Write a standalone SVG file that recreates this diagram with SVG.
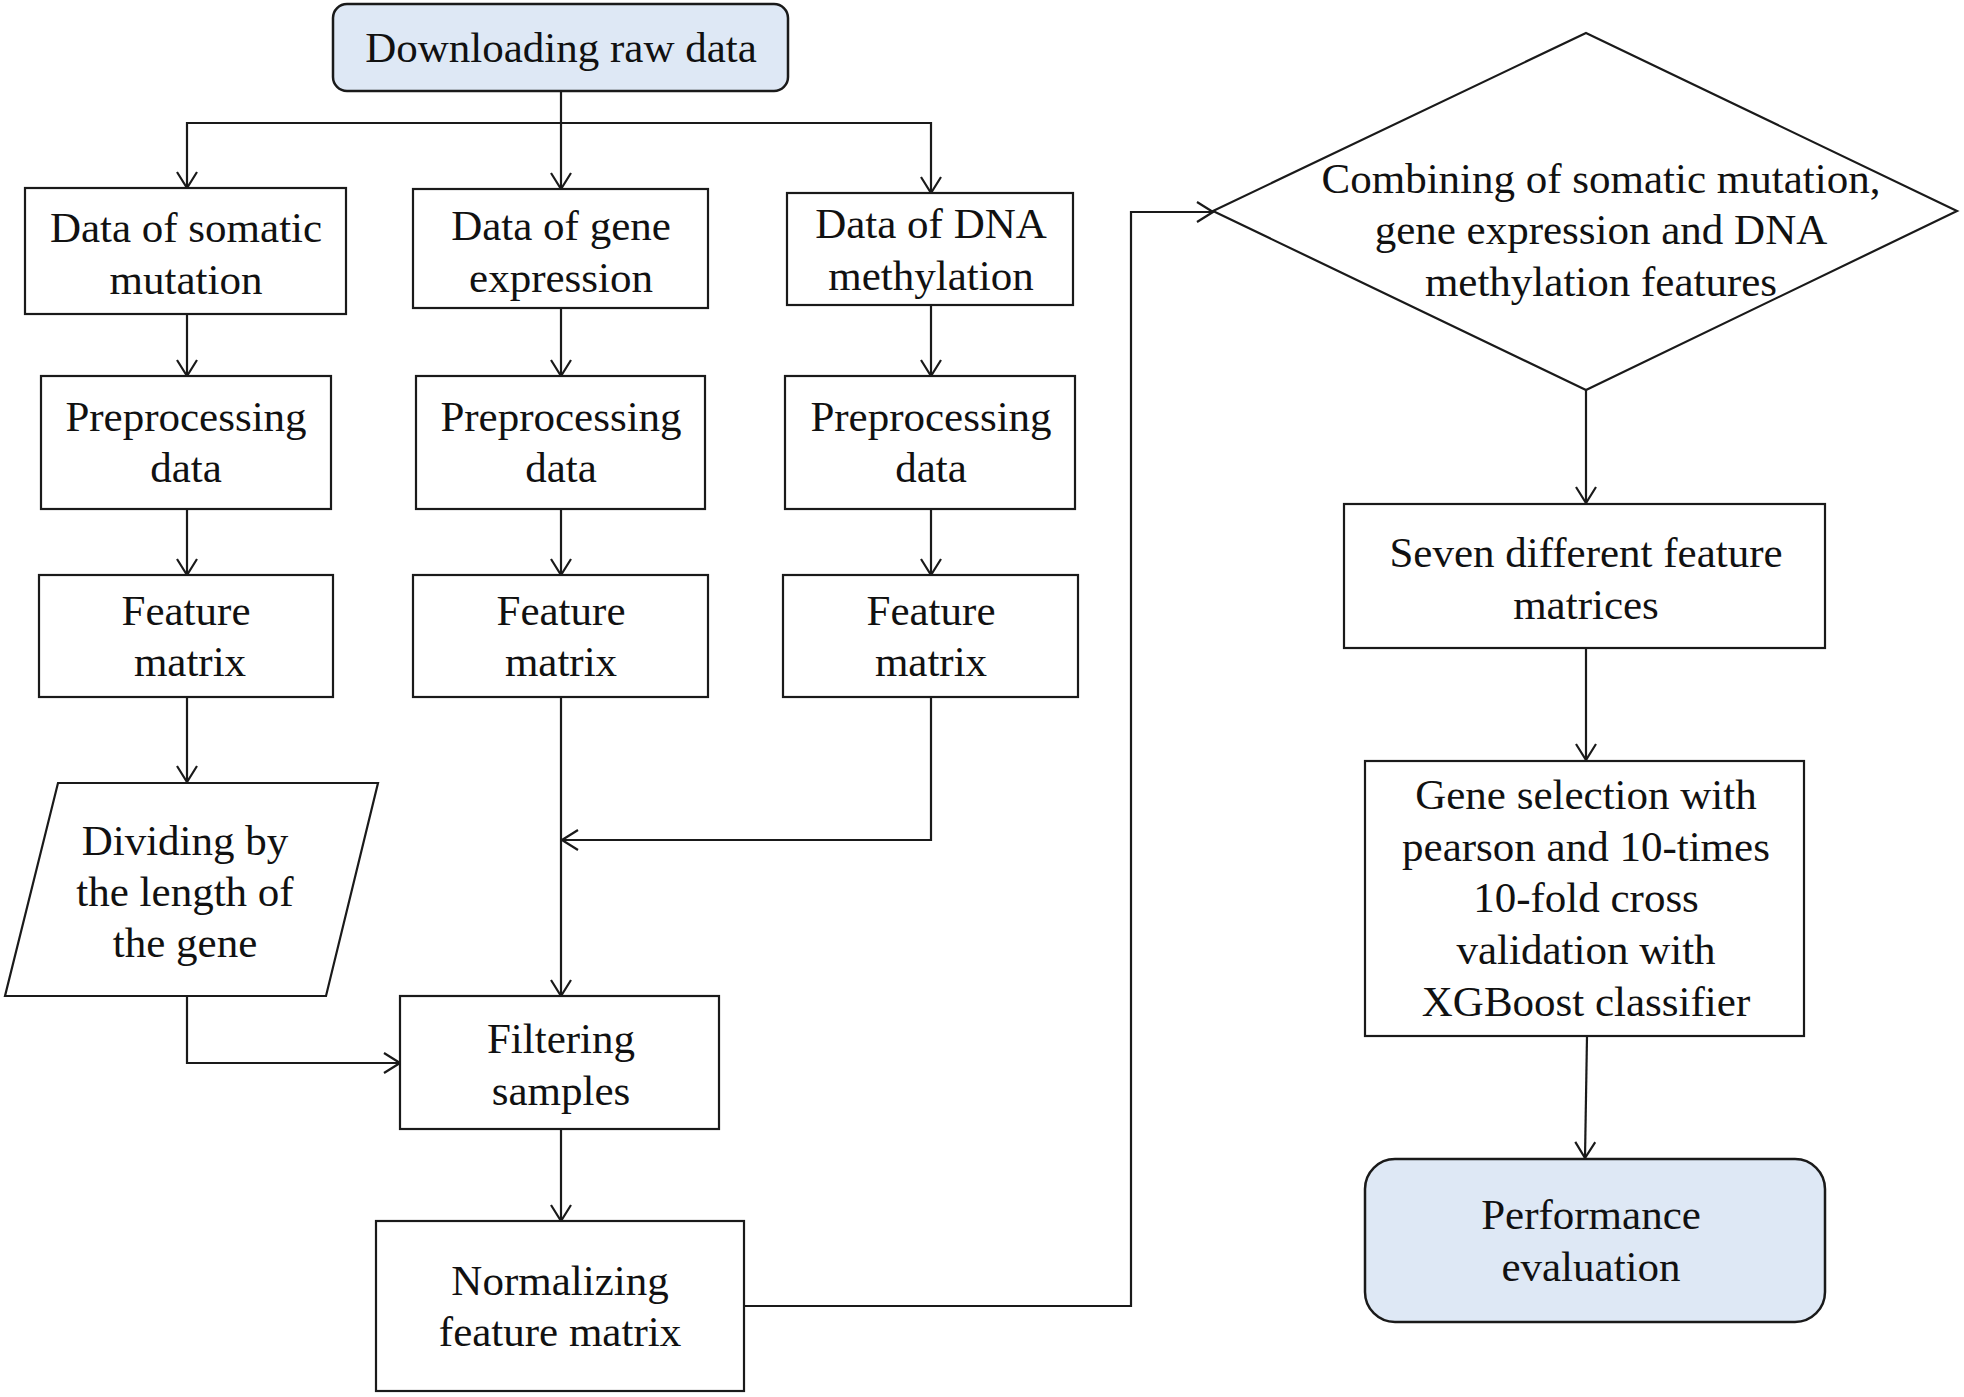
<svg xmlns="http://www.w3.org/2000/svg" width="1964" height="1397" viewBox="0 0 1964 1397">
<style>
.box{fill:#ffffff;stroke:#1a1a1a;stroke-width:2.2}
.term{fill:#dee8f5;stroke:#1a1a1a;stroke-width:2.5}
.t{font-family:"Liberation Serif","Times New Roman",serif;font-size:43px;fill:#111;text-anchor:middle}
.c{fill:none;stroke:#1a1a1a;stroke-width:2.2}
</style>
<defs>
<marker id="ah" viewBox="0 0 18 22" refX="17" refY="11" markerWidth="18" markerHeight="22" markerUnits="userSpaceOnUse" orient="auto">
<path d="M1,1 L17,11 L1,21" fill="none" stroke="#1a1a1a" stroke-width="2.2"/>
</marker>
</defs>
<rect width="1964" height="1397" fill="#ffffff"/>
<g id="connectors">
<path class="c" d="M561,91 V123 H187 V188" marker-end="url(#ah)"/>
<path class="c" d="M561,123 V189" marker-end="url(#ah)"/>
<path class="c" d="M561,123 H931 V193" marker-end="url(#ah)"/>
<path class="c" d="M187,314 V376" marker-end="url(#ah)"/>
<path class="c" d="M561,308 V376" marker-end="url(#ah)"/>
<path class="c" d="M931,305 V376" marker-end="url(#ah)"/>
<path class="c" d="M187,509 V575" marker-end="url(#ah)"/>
<path class="c" d="M561,509 V575" marker-end="url(#ah)"/>
<path class="c" d="M931,509 V575" marker-end="url(#ah)"/>
<path class="c" d="M187,697 V782" marker-end="url(#ah)"/>
<path class="c" d="M187,996 V1063 H400" marker-end="url(#ah)"/>
<path class="c" d="M561,697 V996" marker-end="url(#ah)"/>
<path class="c" d="M931,697 V840 H562" marker-end="url(#ah)"/>
<path class="c" d="M561,1129 V1221" marker-end="url(#ah)"/>
<path class="c" d="M744,1306 H1131 V212 H1213" marker-end="url(#ah)"/>
<path class="c" d="M1586,390 V503" marker-end="url(#ah)"/>
<path class="c" d="M1586,648 V760" marker-end="url(#ah)"/>
<path class="c" d="M1587,1036 L1585,1158" marker-end="url(#ah)"/>
</g>
<g id="download">
<rect class="term" x="333" y="4" width="455" height="87" rx="14"/>
<text class="t" x="561" y="62">Downloading raw data</text>
</g>
<g id="somatic">
<rect class="box" x="25" y="188" width="321" height="126"/>
<text class="t" x="186" y="242">Data of somatic</text>
<text class="t" x="186" y="294">mutation</text>
</g>
<g id="geneexpr">
<rect class="box" x="413" y="189" width="295" height="119"/>
<text class="t" x="561" y="240">Data of gene</text>
<text class="t" x="561" y="292">expression</text>
</g>
<g id="dnameth">
<rect class="box" x="787" y="193" width="286" height="112"/>
<text class="t" x="931" y="238">Data of DNA</text>
<text class="t" x="931" y="290">methylation</text>
</g>
<g id="pre1">
<rect class="box" x="41" y="376" width="290" height="133"/>
<text class="t" x="186" y="431">Preprocessing</text>
<text class="t" x="186" y="482">data</text>
</g>
<g id="pre2">
<rect class="box" x="416" y="376" width="289" height="133"/>
<text class="t" x="561" y="431">Preprocessing</text>
<text class="t" x="561" y="482">data</text>
</g>
<g id="pre3">
<rect class="box" x="785" y="376" width="290" height="133"/>
<text class="t" x="931" y="431">Preprocessing</text>
<text class="t" x="931" y="482">data</text>
</g>
<g id="fm1">
<rect class="box" x="39" y="575" width="294" height="122"/>
<text class="t" x="186" y="625">Feature</text>
<text class="t" x="190" y="676">matrix</text>
</g>
<g id="fm2">
<rect class="box" x="413" y="575" width="295" height="122"/>
<text class="t" x="561" y="625">Feature</text>
<text class="t" x="561" y="676">matrix</text>
</g>
<g id="fm3">
<rect class="box" x="783" y="575" width="295" height="122"/>
<text class="t" x="931" y="625">Feature</text>
<text class="t" x="931" y="676">matrix</text>
</g>
<g id="dividing">
<polygon class="box" points="58,783 378,783 326,996 5,996"/>
<text class="t" x="185" y="855">Dividing by</text>
<text class="t" x="185" y="906">the length of</text>
<text class="t" x="185" y="957">the gene</text>
</g>
<g id="filtering">
<rect class="box" x="400" y="996" width="319" height="133"/>
<text class="t" x="561" y="1053">Filtering</text>
<text class="t" x="561" y="1105">samples</text>
</g>
<g id="normalizing">
<rect class="box" x="376" y="1221" width="368" height="170"/>
<text class="t" x="560" y="1295">Normalizing</text>
<text class="t" x="560" y="1346">feature matrix</text>
</g>
<g id="combining">
<polygon class="box" points="1586,33 1957,211 1586,390 1213,211"/>
<text class="t" x="1601" y="193">Combining of somatic mutation,</text>
<text class="t" x="1601" y="244">gene expression and DNA</text>
<text class="t" x="1601" y="296">methylation features</text>
</g>
<g id="seven">
<rect class="box" x="1344" y="504" width="481" height="144"/>
<text class="t" x="1586" y="567">Seven different feature</text>
<text class="t" x="1586" y="619">matrices</text>
</g>
<g id="geneselection">
<rect class="box" x="1365" y="761" width="439" height="275"/>
<text class="t" x="1586" y="809">Gene selection with</text>
<text class="t" x="1586" y="861">pearson and 10-times</text>
<text class="t" x="1586" y="912">10-fold cross</text>
<text class="t" x="1586" y="964">validation with</text>
<text class="t" x="1586" y="1016">XGBoost classifier</text>
</g>
<g id="performance">
<rect class="term" x="1365" y="1159" width="460" height="163" rx="30"/>
<text class="t" x="1591" y="1229">Performance</text>
<text class="t" x="1591" y="1281">evaluation</text>
</g>
</svg>
